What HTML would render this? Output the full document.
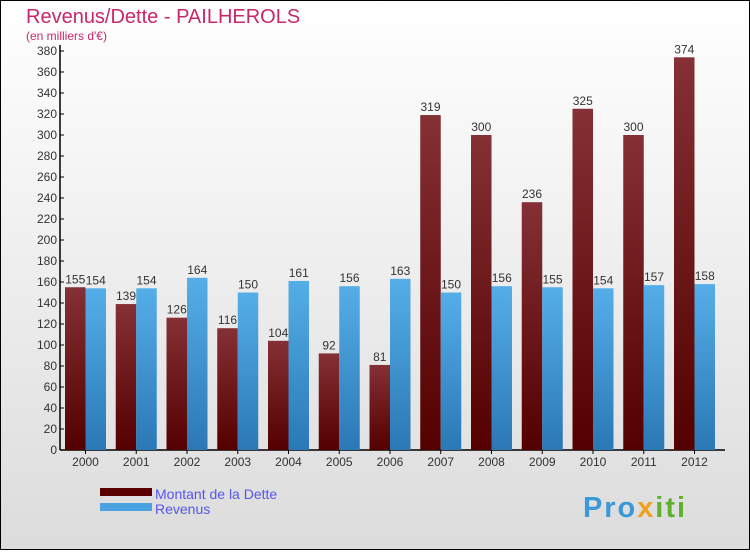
<!DOCTYPE html>
<html><head><meta charset="utf-8"><style>
body{margin:0;width:750px;height:550px;overflow:hidden;font-family:"Liberation Sans",sans-serif}
</style></head><body>
<svg width="750" height="550" xmlns="http://www.w3.org/2000/svg">
<defs>
<linearGradient id="bg" x1="0" y1="0" x2="0" y2="1"><stop offset="0" stop-color="#ffffff"/><stop offset="1" stop-color="#dcdcdc"/></linearGradient>
<linearGradient id="red" x1="0" y1="0" x2="0" y2="1"><stop offset="0" stop-color="#853035"/><stop offset="1" stop-color="#540000"/></linearGradient>
<linearGradient id="blue" x1="0" y1="0" x2="0" y2="1"><stop offset="0" stop-color="#55aee8"/><stop offset="1" stop-color="#2a78b5"/></linearGradient>
</defs>
<rect x="0.5" y="0.5" width="749" height="549" fill="url(#bg)" stroke="#000"/>
<text x="26" y="23" font-size="20" fill="#c8286a">Revenus/Dette - PAILHEROLS</text>
<text x="26" y="40" font-size="12" fill="#c8286a">(en milliers d'€)</text>
<g id="plot"></g>
<rect x="100" y="488" width="52" height="8" fill="#5a0000"/>
<text x="155" y="499" font-size="14" fill="#5555ee">Montant de la Dette</text>
<rect x="100" y="503" width="52" height="8" fill="#4aa3e0"/>
<text x="155" y="514" font-size="14" fill="#5555ee">Revenus</text>
<text x="583" y="517" font-size="29" font-weight="bold" fill="#3a9ad9" textLength="102">Pro<tspan fill="#f0a020">x</tspan><tspan fill="#60b030">iti</tspan></text>
</svg>
<script>
const years=["2000","2001","2002","2003","2004","2005","2006","2007","2008","2009","2010","2011","2012"];
const dette=[155,139,126,116,104,92,81,319,300,236,325,300,374];
const revenus=[154,154,164,150,161,156,163,150,156,155,154,157,158];
const ticks=[0,20,40,60,80,100,120,140,160,180,200,220,240,260,280,300,320,340,360,380];
const NS="http://www.w3.org/2000/svg";
const g=document.getElementById('plot');
const y0=450,yTop=51,maxV=380,x0=60,step=50.75,bw=20.5;
const ys=v=>y0-v*(y0-yTop)/maxV;
const xs=i=>x0+5+i*step;
function mk(t,a){const e=document.createElementNS(NS,t);for(const k in a)e.setAttribute(k,a[k]);g.appendChild(e);return e;}
let ax=mk('line',{x1:x0,y1:yTop-6,x2:x0,y2:y0,stroke:'#000','stroke-width':1.5});


let bx=mk('line',{x1:x0,y1:y0,x2:725,y2:y0,stroke:'#000','stroke-width':1.5});


ticks.forEach(t=>{
 const tk=mk('line',{x1:x0,y1:ys(t),x2:x0+4,y2:ys(t),stroke:'#000'});
 
 
 const tl=mk('text',{x:x0-3,y:ys(t)+4,'font-size':12,'text-anchor':'end',fill:'#333'});
 tl.textContent=t;
 
 
});
years.forEach((yr,i)=>{
 const x=xs(i);
 const r=mk('rect',{x:x,y:ys(dette[i]),width:bw,height:y0-ys(dette[i]),fill:'url(#red)'});
 
 
 const b=mk('rect',{x:x+bw,y:ys(revenus[i]),width:bw,height:y0-ys(revenus[i]),fill:'url(#blue)'});
 
 
 const l1=mk('text',{x:x+bw/2,y:ys(dette[i])-4,'font-size':12,'text-anchor':'middle',fill:'#333'});
 l1.textContent=dette[i];
 
 
 const l2=mk('text',{x:x+bw*1.5,y:ys(revenus[i])-4,'font-size':12,'text-anchor':'middle',fill:'#333'});
 l2.textContent=revenus[i];
 
 
 const xt=mk('line',{x1:x+bw,y1:y0,x2:x+bw,y2:y0+4,stroke:'#000'});
 
 
 const xl=mk('text',{x:x+bw,y:y0+16,'font-size':12,'text-anchor':'middle',fill:'#333'});
 xl.textContent=yr;
 
 
});
</script>
</body></html>
